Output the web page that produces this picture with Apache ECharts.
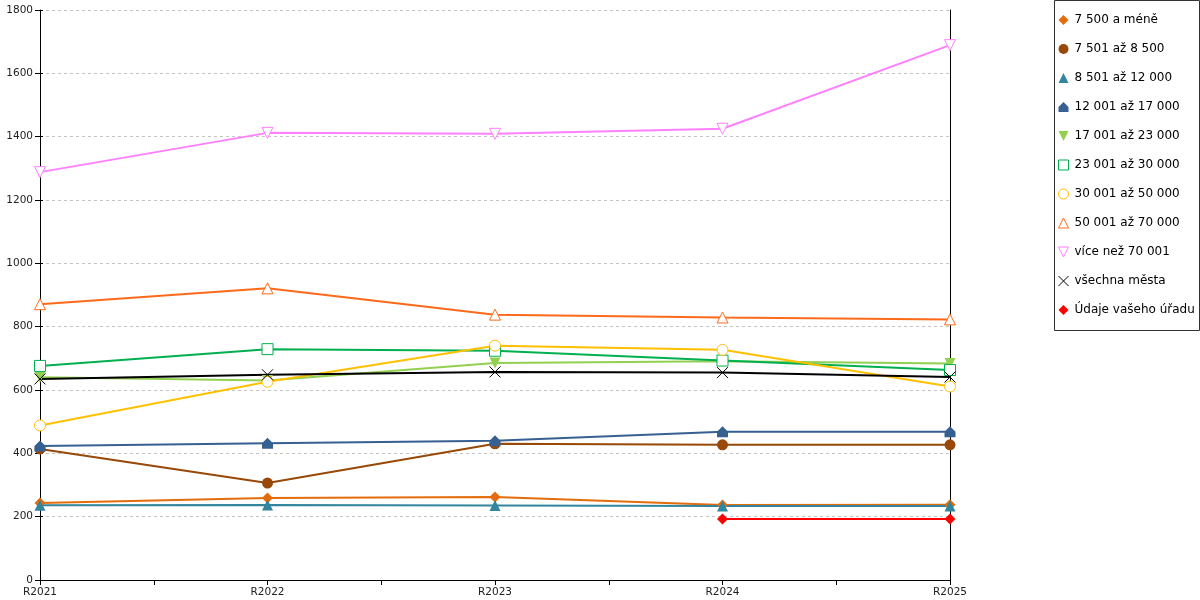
<!DOCTYPE html>
<html>
<head>
    <meta http-equiv="Content-Type" content="text/html; charset=utf-8" />
    <script src="https://cdn.jsdelivr.net/npm/echarts@6/dist/echarts.min.js"></script>
    <style>
        html, body { margin: 0; padding: 0; background: #fff; }
        #graf { width: 1200px; height: 600px; }
    </style>
</head>
<body>
<div id="graf"></div>

<script type="text/javascript">
    // roky na ose x
    var roky = ['R2021', 'R2022', 'R2023', 'R2024', 'R2025'];

    // hodnoty podle velikosti obce
    var do7500 = [243, 259, 262, 237, 238];
    var do8500 = [414, 306, 430, 427, 427];
    var do12000 = [236, 237, 235, 234, 234];
    var do17000 = [423, 432, 440, 468, 468];
    var do23000 = [640, 630, 685, 691, 684];
    var do30000 = [676, 729, 724, 693, 663];
    var do50000 = [488, 626, 740, 727, 611];
    var do70000 = [871, 921, 838, 829, 823];
    var nad70001 = [1288, 1412, 1409, 1425, 1689];
    var vsechna = [635, 648, 657, 655, 641];
    var vasUrad = [null, null, null, 193, 193];

    var yTicks = [0, 200, 400, 600, 800, 1000, 1200, 1400, 1600, 1800];

    var domek = 'path://M5,0 L10,5 L10,10 L0,10 L0,5 Z';
    var dolu = 'path://M0,0 L10,0 L5,10 Z';
    var krizek = 'path://M0,0 L10,10 M10,0 L0,10';

    // nazev, data, barva, symbol, duty
    var rady = [
        ['7 500 a méně', do7500, '#e46c0a', 'diamond', false],
        ['7 501 až 8 500', do8500, '#984807', 'circle', false],
        ['8 501 až 12 000', do12000, '#31859c', 'triangle', false],
        ['12 001 až 17 000', do17000, '#366092', domek, false],
        ['17 001 až 23 000', do23000, '#92d050', dolu, false],
        ['23 001 až 30 000', do30000, '#00b050', 'rect', true],
        ['30 001 až 50 000', do50000, '#ffc000', 'circle', true],
        ['50 001 až 70 000', do70000, '#ff6a1a', 'triangle', true],
        ['více než 70 001', nad70001, '#ff80ff', dolu, true],
        ['všechna města', vsechna, '#000000', krizek, true],
        ['Údaje vašeho úřadu', vasUrad, '#ff0000', 'diamond', false]
    ];

    function styl(r) {
        if (r[3] === krizek) {
            return {color: 'rgba(0,0,0,0)', borderColor: r[2], borderWidth: 1};
        }
        if (r[4]) {
            return {color: '#ffffff', borderColor: r[2], borderWidth: 1};
        }
        return {color: r[2], borderWidth: 0};
    }

    var series = [];
    var legendData = [];
    rady.forEach(function (r) {
        series.push({
            name: r[0],
            type: 'line',
            data: r[1].map(function (v, i) { return [i, v]; }),
            symbol: r[3],
            symbolSize: 11,
            showAllSymbol: true,
            lineStyle: {color: r[2], width: 2},
            itemStyle: styl(r),
            emphasis: {disabled: true},
            z: 2
        });
        legendData.push({
            name: r[0],
            icon: r[3],
            itemStyle: styl(r)
        });
    });

    var yMin = yTicks[0];
    var yMax = yTicks[yTicks.length - 1];
    var yInt = yTicks[1] - yTicks[0];

    var graf = echarts.init(document.getElementById('graf'), null, {renderer: 'canvas'});
    var option = {
        animation: false,
        backgroundColor: '#fff',
        textStyle: {fontFamily: 'DejaVu Sans'},
        grid: {left: 40, right: 250, top: 10, bottom: 20},
        graphic: [{
            type: 'rect',
            shape: {x: 1054.5, y: 0.5, width: 145, height: 330},
            style: {fill: '#fff', stroke: '#333', lineWidth: 1},
            z: 0
        }],
        legend: {
            orient: 'vertical',
            left: 1058,
            top: 14,
            padding: 0,
            itemWidth: 10,
            itemHeight: 10,
            itemGap: 17,
            selectedMode: false,
            textStyle: {fontFamily: 'DejaVu Sans', fontSize: 12, color: '#000', padding: [0, 0, 0, 1]},
            data: legendData,
            z: 5
        },
        xAxis: {
            type: 'value',
            min: 0,
            max: roky.length - 1,
            interval: 0.5,
            axisLine: {show: true, lineStyle: {color: '#000', width: 1}},
            axisTick: {show: true, length: 5, lineStyle: {color: '#000'}},
            splitLine: {show: false},
            axisLabel: {
                fontSize: 10.5,
                color: '#222',
                margin: 7,
                showMinLabel: true,
                showMaxLabel: true,
                formatter: function (v) {
                    return Number.isInteger(v) ? roky[v] : '';
                }
            }
        },
        yAxis: [{
            type: 'value',
            min: yMin,
            max: yMax,
            interval: yInt,
            axisLine: {show: true, lineStyle: {color: '#000', width: 1}},
            axisTick: {show: true, length: 5, lineStyle: {color: '#000'}},
            splitLine: {show: true, lineStyle: {color: '#c4c4c4', type: [3, 3], width: 1}},
            axisLabel: {
                fontSize: 10.5,
                color: '#222',
                margin: 7,
                formatter: function (v) { return String(v); }
            }
        }, {
            type: 'value',
            min: yMin,
            max: yMax,
            interval: yInt,
            position: 'left',
            axisLine: {show: false},
            axisTick: {show: true, inside: true, length: 3, lineStyle: {color: '#000'}},
            splitLine: {show: false},
            axisLabel: {show: false}
        }, {
            type: 'value',
            min: yMin,
            max: yMax,
            interval: yInt,
            position: 'right',
            axisLine: {show: true, lineStyle: {color: '#000', width: 1}},
            axisTick: {show: false},
            splitLine: {show: false},
            axisLabel: {show: false}
        }],
        series: series
    };

    graf.setOption(option);
</script>

</body>
</html>
